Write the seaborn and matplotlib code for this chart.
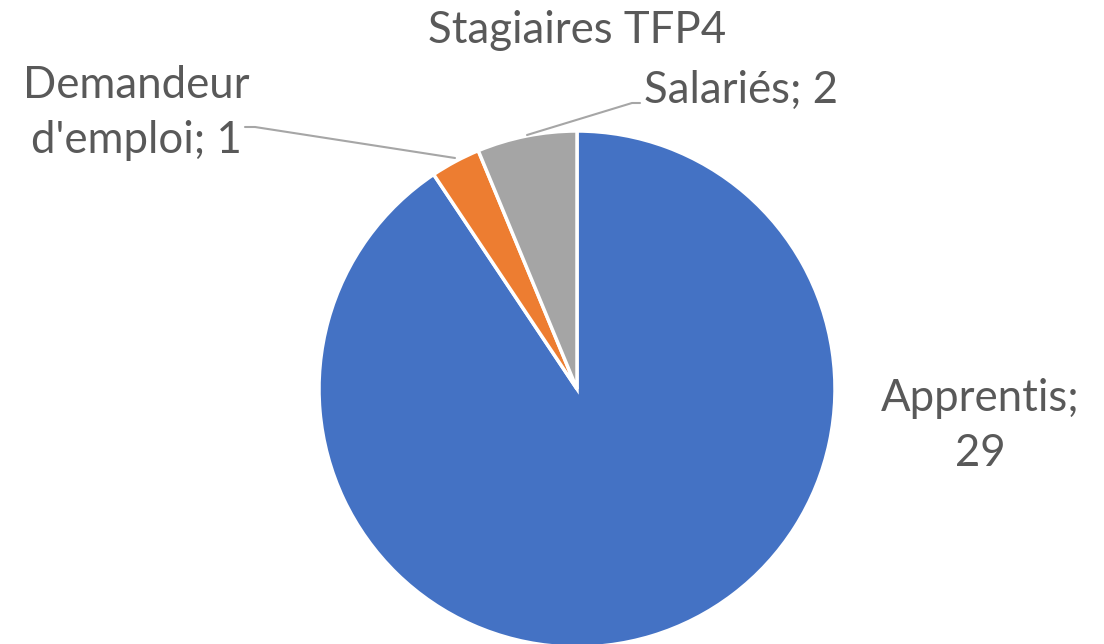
import matplotlib.pyplot as plt
import seaborn as sns

sns.set_theme(style='white')
plt.rcParams['font.family'] = ['Lato', 'DejaVu Sans']

# données
categories = ['Apprentis', "Demandeur\nd'emploi", 'Salariés']
values = [29, 1, 2]
colors = ['#4472C4', '#ED7D31', '#A5A5A5']
title = 'Stagiaires TFP4'

W, H = 1104, 644
fig = plt.figure(figsize=(W / 100, H / 100), dpi=100)
ax = fig.add_axes([0, 0, 1, 1])

# centre et rayon en pixels
cx, cy, r = 577, H - 389, 258
ax.pie(values, colors=colors, startangle=90, counterclock=False,
       center=(cx, cy), radius=r,
       wedgeprops={'edgecolor': 'white', 'linewidth': 2.5})
ax.set_xlim(0, W)
ax.set_ylim(0, H)
ax.set_aspect('equal')
ax.axis('off')

txt = '#595959'
line_c = '#A6A6A6'
fs = 31.5

ax.text(577, H - 30, title, ha='center', va='center', fontsize=fs, color=txt)

# étiquettes
ax.text(980, H - 426, f'{categories[0]};\n{values[0]}', ha='center', va='center',
        fontsize=fs, color=txt, linespacing=1.4)
ax.text(136, H - 113, f"{categories[1]}; {values[1]}", ha='center', va='center',
        fontsize=fs, color=txt, linespacing=1.4)
ax.text(741, H - 90, f'{categories[2]}; {values[2]}', ha='center', va='center',
        fontsize=fs, color=txt)

# lignes de rappel
ax.plot([245, 255, 455], [H - 127, H - 127, H - 158], color=line_c, lw=1.5)
ax.plot([640, 632, 527], [H - 103, H - 103, H - 135], color=line_c, lw=1.5)

plt.savefig('out.png', dpi=100)
